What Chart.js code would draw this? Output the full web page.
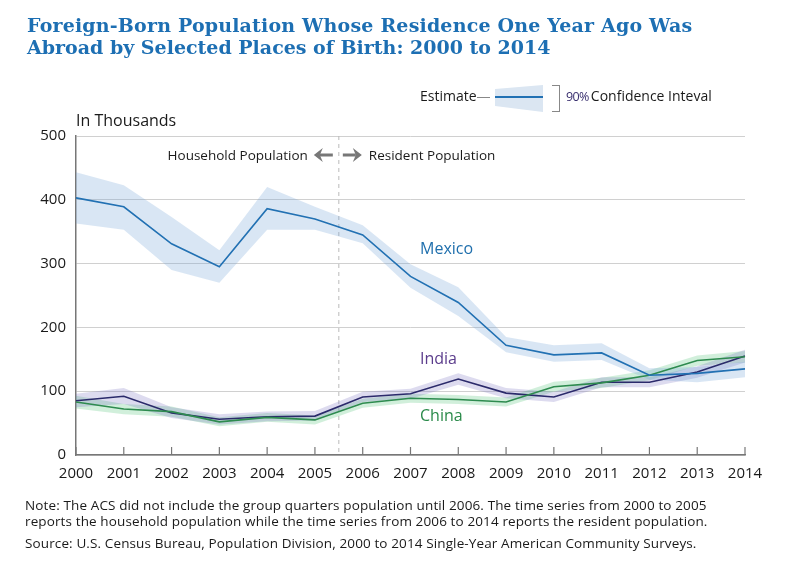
<!DOCTYPE html>
<html>
<head>
<meta charset="utf-8">
<script src="https://cdn.jsdelivr.net/npm/chart.js@4.4.1/dist/chart.umd.min.js"></script>
<style>
  body { margin: 0; background: #fff; }
  #wrap { position: relative; width: 800px; height: 569px; overflow: hidden; font-family: "Open Sans", Lato, sans-serif; color: #1a1a1a; }
  #chart { position: absolute; left: 0; top: 0; }
  .txt { position: absolute; white-space: nowrap; }
  #title { left: 27px; top: 14px; font-family: "DejaVu Serif", serif; font-weight: bold; font-size: 19px; line-height: 22px; color: #1d6fb3; }
  #title .l1 { letter-spacing: 0.18px; }
  #units { left: 76px; top: 109px; font-size: 16px; }
  #note { left: 25px; top: 497px; font-size: 13.5px; line-height: 16px; letter-spacing: 0.12px; }
  #source { left: 25px; top: 534px; font-size: 13.5px; letter-spacing: 0.12px; }
  #lg-est { left: 420px; top: 86px; font-size: 14px; }
  #lg-dash { position: absolute; left: 477px; top: 97px; width: 13px; height: 1px; background: #888; }
  #lg-band { position: absolute; left: 495px; top: 85px; width: 48px; height: 27px; background: #dbe6f2; clip-path: polygon(0 15%, 100% 0, 100% 100%, 0 78%); }
  #lg-line { position: absolute; left: 495px; top: 96px; width: 48px; height: 2px; background: #2271b3; }
  #lg-brk { position: absolute; left: 552px; top: 85px; width: 7px; height: 25px; border: 1.5px solid #888; border-left: none; }
  #lg-ci { left: 566px; top: 86px; font-size: 14px; }
  #lg-ci span { color: #3b3170; font-size: 12.5px; letter-spacing: -0.6px; margin-right: 2px; }
</style>
</head>
<body>
<div id="wrap">
  <canvas id="chart" width="800" height="569"></canvas>
  <div class="txt" id="title"><span class="l1">Foreign-Born Population Whose Residence One Year Ago Was</span><br><span class="l2">Abroad by Selected Places of Birth: 2000 to 2014</span></div>
  <div class="txt" id="lg-est">Estimate</div>
  <div id="lg-dash"></div>
  <div id="lg-band"></div>
  <div id="lg-line"></div>
  <div id="lg-brk"></div>
  <div class="txt" id="lg-ci"><span>90%</span>Confidence Inteval</div>
  <div class="txt" id="units">In Thousands</div>
  <div class="txt" id="note">Note: The ACS did not include the group quarters population until 2006. The time series from 2000 to 2005<br>reports the household population while the time series from 2006 to 2014 reports the resident population.</div>
  <div class="txt" id="source">Source: U.S. Census Bureau, Population Division, 2000 to 2014 Single-Year American Community Surveys.</div>
</div>
<script>
const years = ["2000", "2001", "2002", "2003", "2004", "2005", "2006", "2007",
  "2008", "2009", "2010", "2011", "2012", "2013", "2014"];

const mexico = [403, 389, 331, 295, 386, 370, 345, 280, 239, 172, 157, 160, 125, 128, 135];
const mexicoLow = [363, 353, 290, 270, 353, 353, 332, 262, 218, 161, 146, 149, 118, 114, 122];
const mexicoHigh = [443, 423, 373, 321, 420, 389, 360, 299, 263, 185, 172, 175, 136, 138, 146];

const india = [85, 92, 66, 56, 60, 61, 91, 96, 119, 97, 91, 114, 114, 130, 155];
const indiaLow = [75, 80, 58, 48, 53, 54, 83, 88, 110, 89, 83, 106, 106, 121, 145];
const indiaHigh = [96, 105, 75, 64, 68, 69, 99, 104, 128, 105, 99, 122, 122, 139, 165];

const china = [83, 72, 68, 52, 59, 55, 81, 89, 87, 83, 107, 113, 125, 148, 154];
const chinaLow = [73, 64, 60, 45, 52, 48, 74, 82, 80, 76, 99, 105, 117, 140, 145];
const chinaHigh = [93, 80, 76, 59, 66, 62, 88, 96, 94, 90, 115, 121, 133, 156, 163];

const seriesLabels = [
  { text: "Mexico", color: "#1f6fad", y: 249 },
  { text: "India", color: "#5b3c8c", y: 359 },
  { text: "China", color: "#2a8a4a", y: 416 },
];

const FONT = "'Open Sans', Lato, sans-serif";

function band(data, color, fill) {
  return { data: data, borderWidth: 0, pointRadius: 0, backgroundColor: color, fill: fill, order: 2 };
}

function line(data, color) {
  return { data: data, borderColor: color, borderWidth: 1.6, pointRadius: 0, fill: false, tension: 0, order: 0 };
}

function arrow(ctx, x1, x2, y) {
  const dir = Math.sign(x2 - x1);
  ctx.save();
  ctx.strokeStyle = "#777";
  ctx.fillStyle = "#777";
  ctx.lineWidth = 3;
  ctx.beginPath();
  ctx.moveTo(x1, y);
  ctx.lineTo(x2 - dir * 6, y);
  ctx.stroke();
  ctx.beginPath();
  ctx.moveTo(x2, y);
  ctx.lineTo(x2 - dir * 9, y - 7);
  ctx.lineTo(x2 - dir * 6, y);
  ctx.lineTo(x2 - dir * 9, y + 7);
  ctx.closePath();
  ctx.fill();
  ctx.restore();
}

const annotations = {
  id: "annotations",
  beforeDatasetsDraw(chart) {
    const { ctx, chartArea, scales } = chart;
    const xs = scales.x;
    const splitX = (xs.getPixelForValue(5) + xs.getPixelForValue(6)) / 2;
    ctx.save();
    ctx.strokeStyle = "#bbb";
    ctx.lineWidth = 1;
    ctx.setLineDash([4, 4]);
    ctx.beginPath();
    ctx.moveTo(splitX, chartArea.top);
    ctx.lineTo(splitX, chartArea.bottom);
    ctx.stroke();
    ctx.restore();
  },
  afterDatasetsDraw(chart) {
    const { ctx, chartArea, scales } = chart;
    const xs = scales.x;
    const splitX = (xs.getPixelForValue(5) + xs.getPixelForValue(6)) / 2;

    // tick marks pointing up from the x axis
    ctx.save();
    ctx.strokeStyle = "#777";
    ctx.lineWidth = 1.2;
    for (let i = 0; i < years.length; i++) {
      const x = xs.getPixelForValue(i);
      ctx.beginPath();
      ctx.moveTo(x, chartArea.bottom - 8);
      ctx.lineTo(x, chartArea.bottom);
      ctx.stroke();
    }
    ctx.restore();

    ctx.save();
    ctx.font = "13.5px " + FONT;
    ctx.fillStyle = "#1a1a1a";
    ctx.textBaseline = "middle";
    ctx.textAlign = "right";
    ctx.fillText("Household Population", splitX - 31, 156);
    ctx.textAlign = "left";
    ctx.fillText("Resident Population", splitX + 30, 156);
    ctx.restore();
    arrow(ctx, splitX - 6, splitX - 25, 155);
    arrow(ctx, splitX + 4, splitX + 23, 155);

    ctx.save();
    ctx.font = "16px " + FONT;
    ctx.textBaseline = "middle";
    ctx.textAlign = "left";
    for (const lab of seriesLabels) {
      ctx.fillStyle = lab.color;
      ctx.fillText(lab.text, 420, lab.y);
    }
    ctx.restore();
  },
};

new Chart(document.getElementById("chart"), {
  type: "line",
  data: {
    labels: years,
    datasets: [
      line(mexico, "#2271b3"),
      line(china, "#2e8b4f"),
      line(india, "#2b2a6b"),
      band(mexicoHigh, "rgba(120,165,215,0.28)", "+1"),
      band(mexicoLow, "rgba(0,0,0,0)", false),
      band(indiaHigh, "rgba(120,110,190,0.25)", "+1"),
      band(indiaLow, "rgba(0,0,0,0)", false),
      band(chinaHigh, "rgba(70,190,110,0.25)", "+1"),
      band(chinaLow, "rgba(0,0,0,0)", false),
    ],
  },
  options: {
    responsive: false,
    animation: false,
    layout: { padding: { top: 136, right: 55, bottom: 0, left: 0 } },
    plugins: { legend: { display: false }, tooltip: { enabled: false } },
    scales: {
      x: {
        offset: false,
        grid: { display: false, drawTicks: false },
        border: { display: true, color: "#777", width: 1.5 },
        ticks: { color: "#1a1a1a", font: { family: "Open Sans", size: 15 }, padding: 10, maxRotation: 0, autoSkip: false },
        afterFit(scale) { scale.height = 114; },
      },
      y: {
        min: 0,
        max: 500,
        ticks: { stepSize: 100, color: "#1a1a1a", font: { family: "Open Sans", size: 15 }, padding: 10 },
        grid: { color: "#d0d0d0", drawTicks: false },
        border: { display: true, color: "#777", width: 1.5 },
        afterFit(scale) { scale.width = 76; },
      },
    },
  },
  plugins: [annotations],
});
</script>
</body>
</html>
